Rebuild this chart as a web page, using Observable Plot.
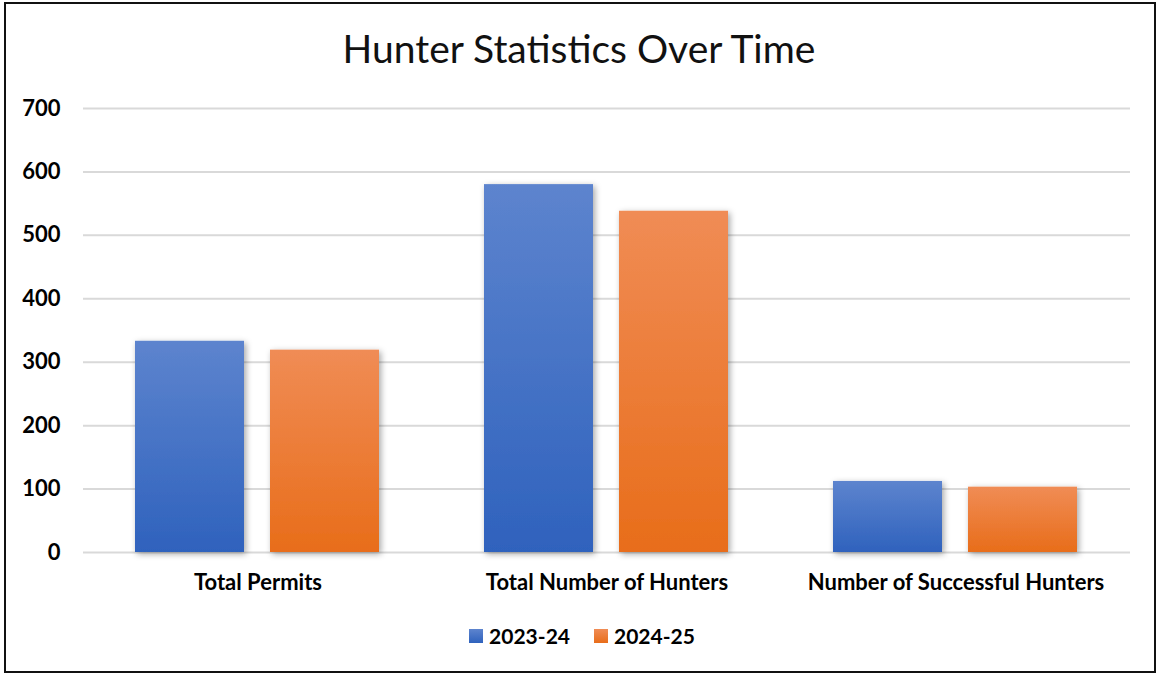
<!DOCTYPE html>
<html>
<head>
<meta charset="utf-8">
<script src="https://cdn.jsdelivr.net/npm/d3@7"></script>
<script src="https://cdn.jsdelivr.net/npm/@observablehq/plot@0.6"></script>
<style>
  html, body { margin: 0; padding: 0; background: #fff; width: 1158px; height: 675px; overflow: hidden; font-family: Lato, "Noto Sans", sans-serif; }
  #frame { position: absolute; left: 4px; top: 2px; width: 1152px; height: 671px; box-sizing: border-box; border: 2px solid #111; }
  #title { position: absolute; left: 0; width: 1158px; top: 25px; text-align: center; font-size: 39px; color: #111; font-weight: 400; }
  #chart { position: absolute; left: 0; top: 0; }
  #legend { position: absolute; left: 3px; width: 1158px; top: 623px; display: flex; justify-content: center; gap: 24px; font-size: 21px; font-weight: 700; color: #000; }
  .item { display: flex; align-items: center; gap: 6px; }
  .sw { width: 14px; height: 14px; display: inline-block; }
  #chart svg text { font-family: Lato, "Noto Sans", sans-serif; font-weight: 700; fill: #000; }
  #chart [aria-label="y-axis tick label"] text { font-size: 22px; }
  #chart [aria-label="fx-axis tick label"] text { font-size: 22px; }
</style>
</head>
<body>
<div id="frame"></div>
<div id="title">Hunter Statistics Over Time</div>
<div id="chart"></div>
<div id="legend"></div>
<script>
const categories = ["Total Permits", "Total Number of Hunters", "Number of Successful Hunters"];
const seriesNames = ["2023-24", "2024-25"];
const values2023 = [333, 580, 112];
const values2024 = [319, 538, 103];
const yTicks = [0, 100, 200, 300, 400, 500, 600, 700];

const data = [];
categories.forEach((c, i) => {
  data.push({category: c, series: seriesNames[0], value: values2023[i]});
  data.push({category: c, series: seriesNames[1], value: values2024[i]});
});

const chart = Plot.plot({
  width: 1158,
  height: 610,
  marginLeft: 83,
  marginRight: 28,
  marginTop: 108,
  marginBottom: 58,
  fx: {domain: categories, padding: 0, label: null, tickSize: 0, tickPadding: 22, axis: "bottom"},
  x: {domain: seriesNames, axis: null, paddingInner: 0.19, paddingOuter: 0.385},
  y: {domain: [0, 700], ticks: yTicks, label: null, tickSize: 0, tickPadding: 23},
  color: {domain: seriesNames, range: ["url(#gBlue)", "url(#gOrange)"]},
  marks: [
    Plot.gridY(yTicks, {stroke: "#d9d9d9", strokeOpacity: 1, strokeWidth: 2}),
    Plot.barY(data, {fx: "category", x: "series", y: "value", fill: "series"})
  ]
});

const svg = d3.select(chart);
const defs = svg.insert("defs", ":first-child");
function grad(id, top, bottom) {
  const g = defs.append("linearGradient").attr("id", id).attr("x1", 0).attr("y1", 0).attr("x2", 0).attr("y2", 1);
  g.append("stop").attr("offset", "0%").attr("stop-color", top);
  g.append("stop").attr("offset", "100%").attr("stop-color", bottom);
}
grad("gBlue", "#5d84ce", "#2f62bd");
grad("gOrange", "#f08c55", "#e86d1a");
const f = defs.append("filter").attr("id", "shadow").attr("x", "-20%").attr("y", "-20%").attr("width", "140%").attr("height", "140%");
f.append("feDropShadow").attr("dx", 2).attr("dy", 2).attr("stdDeviation", 3).attr("flood-color", "#000").attr("flood-opacity", 0.35);
svg.selectAll('[aria-label="bar"] rect').attr("filter", "url(#shadow)");

document.getElementById("chart").appendChild(chart);

const legend = document.getElementById("legend");
seriesNames.forEach((s, i) => {
  const item = document.createElement("div");
  item.className = "item";
  const sw = document.createElement("span");
  sw.className = "sw";
  sw.style.background = i === 0 ? "linear-gradient(#5d84ce, #2f62bd)" : "linear-gradient(#f08c55, #e86d1a)";
  const t = document.createElement("span");
  t.textContent = s;
  item.appendChild(sw);
  item.appendChild(t);
  legend.appendChild(item);
});
</script>
</body>
</html>
